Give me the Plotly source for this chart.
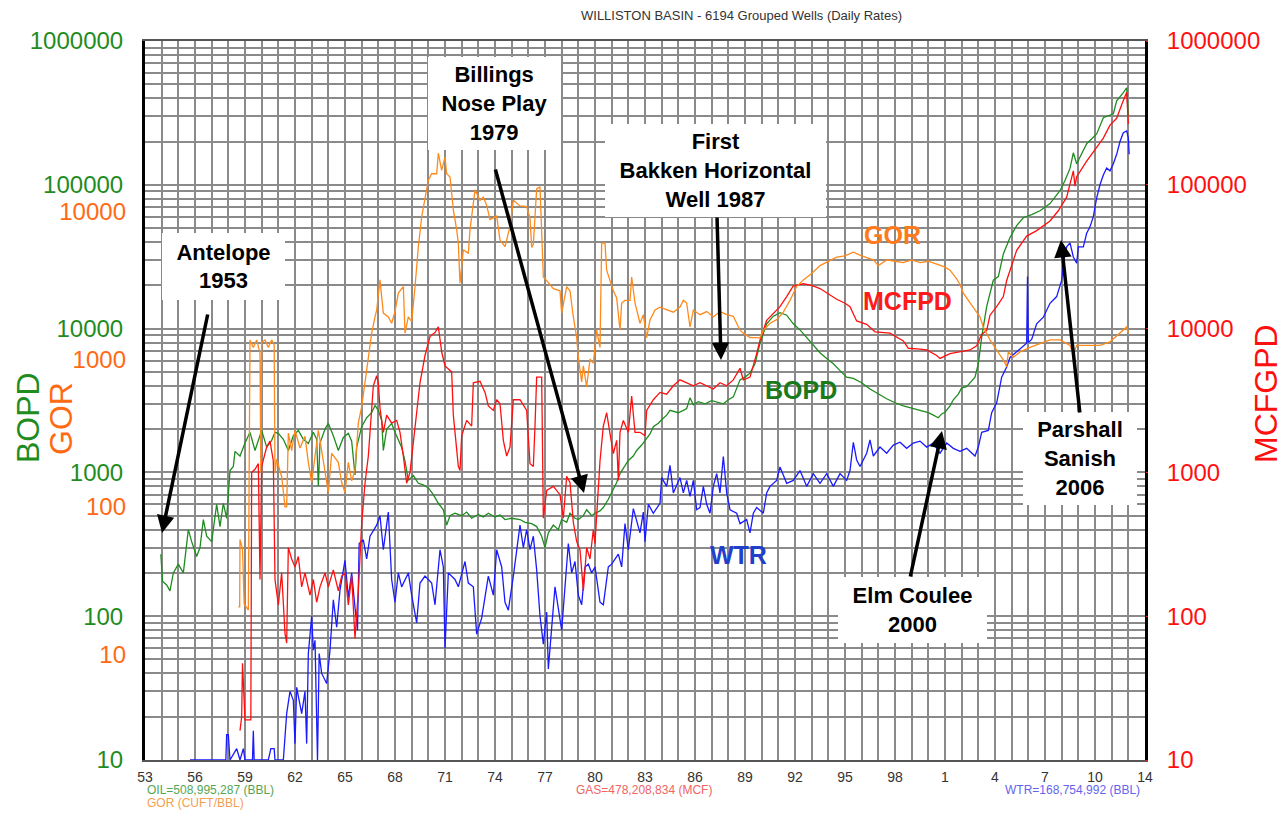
import plotly.graph_objects as go

# ---------------- data ----------------
oil_year = [1953.95,1954.05,1954.3,1954.5,1954.7,1955.0,1955.3,1955.6,1955.8,1956.1,1956.3,1956.5,1956.7,1957.0,1957.3,1957.5,1957.7,1957.9,
            1958.1,1958.3,1958.4,1958.7,1959.0,1959.3,1959.6,1959.8,1960.0,1960.3,1960.6,1960.8,1961.0,1961.3,1961.6,1961.9,1962.2,1962.5,
            1962.8,1963.1,1963.3,1963.4,1963.5,1963.8,1964.0,1964.3,1964.6,1964.9,1965.2,1965.4,1965.6,1965.7,1966.0,1966.3,1966.6,1966.8,
            1967.0,1967.2,1967.3,1967.5,1967.8,1968.0,1968.4,1968.6,1968.8,1969.1,1969.4,1969.7,1970.0,1970.3,1970.6,1970.9,1971.1,1971.3,
            1971.6,1972.0,1972.3,1972.6,1973.0,1973.3,1973.6,1974.0,1974.3,1974.6,1975.0,1975.5,1975.8,1976.2,1976.5,1976.8,1977.0,1977.2,
            1977.5,1977.8,1978.0,1978.3,1978.5,1978.8,1979.0,1979.3,1979.5,1979.8,1980.0,1980.3,1980.5,1980.8,1981.0,1981.3,1981.5,1981.8,
            1982.0,1982.3,1982.5,1982.8,1983.0,1983.3,1983.5,1983.8,1984.0,1984.3,1984.5,1984.8,1985.0,1985.3,1985.5,1985.7,1985.9,1986.2,
            1986.6,1987.0,1987.4,1987.7,1988.0,1988.3,1988.7,1989.0,1989.3,1989.6,1989.9,1990.3,1990.7,1991.1,1991.5,1991.9,1992.3,1992.7,
            1993.1,1993.5,1993.9,1994.3,1994.7,1995.1,1995.5,1996.0,1996.5,1997.0,1997.5,1998.0,1998.5,1999.0,1999.5,2000.0,2000.3,2000.6,
            2000.8,2001.0,2001.3,2001.5,2001.8,2002.0,2002.3,2002.6,2002.8,2003.0,2003.2,2003.5,2003.9,2004.2,2004.5,2004.9,2005.3,2005.7,
            2006.2,2006.7,2007.3,2007.9,2008.2,2008.5,2008.7,2008.9,2009.2,2009.5,2010.1,2010.5,2011.1,2011.3,2011.7,2011.9,2012.0]
oil_bopd = [270,175,165,150,200,230,200,400,330,260,300,470,360,330,600,420,610,480,
            1030,1100,1400,1300,1600,1900,1420,1700,1960,1500,1670,1900,1870,1700,1420,1800,1960,1700,
            1590,1900,1700,800,1600,2000,2190,1800,1420,1750,1870,1650,960,1500,2080,2400,2600,2920,
            2700,2300,1420,2000,2190,1900,1490,1200,880,950,840,820,780,700,610,550,430,500,
            520,500,530,480,510,490,520,490,505,470,480,470,450,440,420,360,300,380,
            430,400,470,450,520,480,470,500,550,500,520,540,570,650,720,850,980,1100,
            1210,1300,1420,1550,1670,1850,2080,2200,2320,2500,2700,2650,2600,2700,2780,3300,2950,3100,
            3000,3150,3050,3000,3200,3350,4400,4600,4900,5700,7900,10800,12200,12900,12400,10800,9800,8700,
            7700,6800,6200,5700,5100,4600,4500,4200,3800,3500,3250,3050,2900,2800,2700,2600,2500,2400,
            2550,2620,2900,3200,3500,3870,3950,4300,4600,5700,8700,14200,21700,23000,33000,43000,52000,59000,
            62000,66000,74000,91000,107000,130000,167000,140000,165000,193000,226000,293000,312000,384000,437000,473000,302000]

gas_year = [1958.7,1958.8,1958.85,1958.95,1959.0,1959.35,1959.4,1959.6,1959.8,1959.9,1960.0,1960.3,1960.5,1960.7,1960.8,1961.0,1961.2,
            1961.4,1961.5,1961.6,1961.8,1962.0,1962.2,1962.4,1962.6,1962.9,1963.1,1963.3,1963.5,1963.8,1964.0,1964.3,1964.6,1964.8,1965.0,
            1965.2,1965.4,1965.6,1965.8,1966.0,1966.2,1966.4,1966.5,1966.7,1966.9,1967.0,1967.1,1967.3,1967.5,1967.8,1968.1,1968.3,1968.5,
            1968.7,1968.9,1969.2,1969.5,1969.8,1970.1,1970.4,1970.6,1970.8,1971.0,1971.4,1971.5,1971.8,1971.9,1972.0,1972.3,1972.6,1972.7,
            1973.1,1973.4,1973.6,1973.9,1974.1,1974.3,1974.5,1974.7,1974.9,1975.1,1975.5,1975.9,1976.1,1976.3,1976.4,1976.5,1976.8,1976.9,
            1977.1,1977.5,1977.9,1978.1,1978.3,1978.5,1978.7,1978.9,1979.1,1979.3,1979.5,1979.7,1979.9,1980.0,1980.1,1980.3,1980.5,1980.7,
            1980.9,1981.1,1981.3,1981.4,1981.5,1981.7,1982.0,1982.2,1982.4,1982.7,1983.0,1983.1,1983.5,1983.9,1984.3,1984.7,1985.1,1985.5,
            1985.9,1986.3,1986.7,1987.1,1987.5,1987.9,1988.3,1988.7,1988.9,1989.3,1989.7,1989.9,1990.3,1990.7,1991.1,1991.5,1991.9,1992.5,
            1993.0,1993.5,1994.0,1994.5,1995.0,1995.3,1995.7,1996.3,1996.8,1997.7,1998.5,1998.8,1999.5,1999.9,2000.5,2000.7,2001.3,2001.9,
            2002.5,2002.9,2003.2,2003.5,2003.7,2004.1,2004.5,2004.7,2005.3,2005.9,2006.5,2007.3,2007.8,2008.3,2008.7,2008.8,2008.9,2009.5,
            2010.1,2010.5,2010.9,2011.3,2011.6,2011.9,2012.0]
gas_mcfpd = [16,20,47,29,19,19,1000,1050,1150,180,1100,1500,1650,1200,180,120,200,
             76,65,300,250,220,260,160,200,140,180,125,160,200,160,210,150,190,200,
             120,190,70,150,440,840,1300,1900,4000,4700,4200,2800,1900,2500,2200,2300,1900,1300,
             840,1000,2000,4200,6500,8800,9400,10300,6900,5500,5000,2500,1100,1030,1800,2300,2100,4200,
             4300,3600,2900,2700,3200,3000,1670,1300,1500,3200,3200,2700,1150,1100,2100,4600,4600,480,
             750,800,700,480,940,850,450,330,290,150,300,250,400,320,500,1200,2100,2600,
             1860,1350,1670,880,1900,2300,1900,3400,1900,1900,1800,2700,3200,3600,3500,4000,4400,4200,
             4000,4200,4000,3800,4200,4000,4400,5300,4400,4600,6700,8300,11400,12700,14200,16700,19800,20500,
             20000,19000,17500,16000,15000,14200,11300,10700,9500,9300,8200,7300,7200,7100,6500,6200,6700,6900,
             7100,7600,9100,9700,12400,14200,16700,21600,35000,44000,48000,56000,66000,82000,125000,98000,114000,146000,
             180000,211000,260000,290000,360000,440000,265000]

gor_year = [1958.6,1958.68,1958.7,1958.85,1958.95,1959.2,1959.3,1959.5,1959.7,1959.9,1959.95,1960.0,1960.2,1960.4,1960.6,1960.75,
            1960.8,1960.9,1961.2,1961.4,1961.5,1961.6,1961.8,1962.0,1962.3,1962.6,1962.8,1963.0,1963.2,1963.4,1963.6,1964.0,1964.2,
            1964.6,1964.8,1965.0,1965.2,1965.4,1965.6,1965.8,1966.0,1966.2,1966.4,1966.6,1966.8,1966.9,1967.1,1967.3,1967.6,1967.8,
            1968.0,1968.2,1968.5,1968.6,1968.8,1969.0,1969.2,1969.4,1969.6,1969.8,1970.0,1970.2,1970.5,1970.6,1970.8,1971.0,1971.1,
            1971.3,1971.5,1971.7,1971.8,1971.9,1972.1,1972.4,1972.5,1972.8,1973.1,1973.3,1973.5,1973.7,1974.1,1974.3,1974.6,1974.9,
            1975.1,1975.5,1975.9,1976.1,1976.2,1976.3,1976.5,1976.7,1976.8,1976.9,1977.1,1977.5,1977.9,1978.0,1978.3,1978.5,1978.7,
            1978.9,1979.0,1979.2,1979.3,1979.5,1979.7,1979.9,1980.1,1980.3,1980.4,1980.6,1980.7,1980.9,1981.1,1981.3,1981.5,1981.6,
            1981.8,1982.1,1982.2,1982.4,1982.7,1982.9,1983.1,1983.3,1983.6,1983.9,1984.3,1984.7,1985.1,1985.3,1985.5,1985.7,1985.9,
            1986.3,1986.7,1987.1,1987.5,1987.9,1988.3,1988.7,1988.9,1989.3,1989.7,1989.9,1990.1,1990.5,1990.9,1991.3,1991.7,1992.1,
            1992.5,1993.0,1993.5,1994.0,1994.5,1995.0,1995.5,1996.0,1996.7,1997.0,1997.5,1998.0,1998.5,1999.0,1999.5,2000.0,2000.5,
            2001.0,2001.3,2001.7,2001.9,2002.1,2002.4,2002.7,2003.1,2003.3,2003.7,2004.1,2004.5,2004.7,2004.8,2005.1,2005.5,2006.1,
            2006.7,2007.3,2007.9,2008.5,2008.7,2008.9,2009.7,2010.3,2010.9,2011.5,2011.9,2012.0]
gor_ratio = [21,21,60,52,22,20,1350,1200,1350,1100,170,1300,1350,1200,1350,1250,
             169,210,160,100,100,316,240,330,250,300,200,146,220,330,240,125,230,
             200,146,125,200,150,178,370,475,690,1030,1500,1930,2150,3440,2050,1930,1750,
             2100,2800,3100,1500,1930,1800,3080,5740,9200,12500,16300,18000,18000,24800,19000,23400,18000,
             17100,10300,7500,6100,3270,5500,5200,7500,14000,11900,12500,11000,8800,9300,6400,5770,7900,
             11900,10900,10800,9000,5700,6000,14200,14700,7300,3600,3400,3000,2900,2050,3100,2900,1930,
             1400,1030,700,900,650,1000,940,1570,1200,6100,6100,4000,3400,2900,2600,1570,2400,
             2500,2500,3600,2400,1750,2000,1400,1840,2150,2250,2150,2080,2250,2500,2400,1650,2150,
             2000,2100,1930,2100,2000,1950,1570,1500,1400,1400,1390,1570,1750,1850,2080,2500,3100,
             3440,3800,4300,4600,4900,5000,5300,5000,4700,4300,4700,4600,4500,4700,4500,4600,4400,
             4200,4000,3500,3200,2800,2500,2250,1930,1650,1350,1150,990,890,1120,1030,1120,1200,
             1280,1350,1350,1240,1070,1240,1240,1240,1310,1500,1650,1500]

wtr_year = [1955.7,1957.85,1957.9,1958.0,1958.1,1958.5,1958.7,1958.9,1959.0,1959.45,1959.5,1959.55,1960.4,1960.55,1960.75,1960.8,
            1961.3,1961.4,1961.5,1961.7,1961.9,1962.0,1962.1,1962.4,1962.6,1962.7,1962.8,1963.0,1963.1,1963.2,1963.35,1963.45,1963.6,
            1963.9,1964.1,1964.3,1964.5,1964.7,1965.0,1965.2,1965.4,1965.6,1965.75,1965.85,1966.1,1966.3,1966.5,1966.9,1967.1,1967.3,
            1967.6,1967.8,1968.0,1968.2,1968.4,1968.8,1969.0,1969.3,1969.5,1969.8,1970.2,1970.4,1970.7,1970.9,1971.0,1971.2,1971.6,
            1971.8,1972.2,1972.4,1972.7,1972.9,1973.2,1973.6,1973.9,1974.1,1974.4,1974.6,1974.8,1975.1,1975.5,1975.7,1975.9,1976.1,
            1976.3,1976.5,1976.7,1976.9,1977.1,1977.2,1977.4,1977.6,1978.0,1978.2,1978.4,1978.6,1978.8,1979.0,1979.2,1979.4,1979.6,
            1979.8,1980.0,1980.3,1980.5,1980.8,1981.0,1981.4,1981.6,1981.8,1982.0,1982.3,1982.5,1982.7,1982.9,1983.0,1983.2,1983.5,
            1983.9,1984.0,1984.3,1984.5,1984.7,1985.1,1985.3,1985.5,1985.7,1985.9,1986.1,1986.3,1986.5,1986.7,1986.9,1987.1,1987.3,
            1987.5,1987.7,1987.9,1988.1,1988.5,1988.7,1989.1,1989.3,1989.5,1989.7,1990.1,1990.3,1990.5,1990.9,1991.1,1991.5,1991.9,
            1992.3,1992.7,1993.1,1993.5,1993.9,1994.3,1994.7,1995.1,1995.3,1995.5,1995.7,1995.9,1996.3,1996.5,1996.7,1997.1,1997.5,
            1997.9,1998.3,1998.7,1999.1,1999.5,1999.9,2000.3,2000.7,2001.1,2001.5,2001.9,2002.3,2002.8,2003.0,2003.2,2003.6,2003.8,
            2004.1,2004.4,2004.7,2004.9,2005.3,2005.6,2005.9,2005.95,2006.0,2006.2,2006.5,2006.9,2007.3,2007.7,2008.0,2008.1,2008.3,
            2008.5,2008.7,2008.9,2009.0,2009.3,2009.5,2009.7,2009.9,2010.1,2010.3,2010.5,2010.7,2010.9,2011.1,2011.3,2011.5,2011.7,
            2011.9,2012.0,2012.05]
wtr_bpd = [10,10,15,15,10,12,10,12,10,10,16,10,10,12,12,10,
           10,15,21,30,26,13,32,21,30,13,55,100,58,68,10,55,40,
           34,58,130,84,152,245,135,200,115,80,320,340,250,360,430,500,290,
           530,180,125,200,160,200,140,90,170,190,170,120,290,220,60,200,180,
           160,240,170,160,75,97,190,140,290,220,125,110,190,430,300,400,290,
           360,210,100,64,107,43,85,160,80,160,320,200,240,140,120,220,230,
           200,220,125,120,220,230,270,220,440,290,560,470,380,530,330,600,520,
           610,920,800,1120,720,920,720,880,680,880,550,570,800,600,520,800,980,
           720,1290,720,550,520,440,470,380,520,570,520,720,800,880,1090,840,880,
           1030,800,980,840,980,800,980,880,1030,1620,1220,1100,1360,1680,1300,1500,1360,
           1550,1620,1470,1600,1650,1500,1600,1360,1600,1470,1400,1470,1300,1500,1900,1960,2600,
           3050,4600,5400,6300,6900,7400,7900,23000,8000,8400,10800,12000,15000,16700,21700,28500,37000,
           39500,31500,28500,37000,37000,46000,51000,60000,81000,100000,117000,131000,125000,140000,163000,200000,230000,
           237000,212000,163000]

year_ticks = list(range(1953, 2014))
year_labels = ['53', '56', '59', '62', '65', '68', '71', '74', '77', '80', '83', '86', '89',
               '92', '95', '98', '1', '4', '7', '10', '14']
left_decades = [10, 100, 1000, 10000, 100000, 1000000]
gor_decades = [10, 100, 1000, 10000]
right_decades = [10, 100, 1000, 10000, 100000, 1000000]

# ---------------- styling ----------------
FONT = "Liberation Sans, Arial, sans-serif"
GREEN, RED, ORANGE, BLUE = "#1f8c1f", "#ff1010", "#ff8a1c", "#1a1aff"
GRID = "#8a8a8a"
# the page body adds an 8px offset; the figure is sized so the plot lands where the reference has it
OFF = 8
FIG_W, FIG_H = 1288 - OFF, 815 - OFF
PL, PT, PW, PH = 145, 41, 1000, 719   # plot area in page pixels

log_grid = [m * d for d in left_decades[:-1] for m in range(1, 10)] + [left_decades[-1]]
log_text = [str(v) if v in left_decades else "" for v in log_grid]
x_text = []
lab_i = 0
for i, yr in enumerate(year_ticks):
    if i % 3 == 0:
        x_text.append(year_labels[lab_i]); lab_i += 1
    else:
        x_text.append("")

fig = go.Figure()
fig.add_trace(go.Scatter(x=wtr_year, y=wtr_bpd, mode="lines", line=dict(color=BLUE, width=1.3), yaxis="y"))
fig.add_trace(go.Scatter(x=oil_year, y=oil_bopd, mode="lines", line=dict(color=GREEN, width=1.3), yaxis="y"))
fig.add_trace(go.Scatter(x=gor_year, y=gor_ratio, mode="lines", line=dict(color=ORANGE, width=1.3), yaxis="y3"))
fig.add_trace(go.Scatter(x=gas_year, y=gas_mcfpd, mode="lines", line=dict(color=RED, width=1.3), yaxis="y2"))

fig.update_layout(
    width=FIG_W, height=FIG_H, showlegend=False,
    margin=dict(l=PL - OFF, r=FIG_W - (PL - OFF) - PW, t=PT - OFF, b=FIG_H - (PT - OFF) - PH, autoexpand=False),
    paper_bgcolor="white", plot_bgcolor="white",
    font=dict(family=FONT),
    xaxis=dict(range=[1953, 2013], tickvals=year_ticks, ticktext=x_text, showgrid=True,
               gridcolor=GRID, gridwidth=2, ticks="", tickfont=dict(size=14, color="#333"),
               showline=True, linecolor="#555", linewidth=1.5, mirror=True, zeroline=False,
               ticklabelstandoff=3, automargin=False),
    yaxis=dict(type="log", range=[1, 6], tickvals=log_grid, ticktext=log_text, showgrid=True,
               gridcolor=GRID, gridwidth=2, ticks="", tickfont=dict(size=24, color=GREEN),
               showline=True, linecolor="black", linewidth=3, mirror=True, ticklabelstandoff=14,
               automargin=False),
    yaxis2=dict(type="log", range=[1, 6], overlaying="y", side="right", tickvals=right_decades,
                ticktext=[str(v) for v in right_decades], showgrid=False, ticks="outside", ticklen=2,
                tickcolor=RED, tickfont=dict(size=24, color=RED), ticklabelstandoff=14, showline=False,
                automargin=False),
    yaxis3=dict(type="log", range=[0.286, 5.154], overlaying="y", side="left", anchor="x",
                tickvals=gor_decades, ticktext=[str(v) for v in gor_decades], showgrid=False, ticks="",
                tickfont=dict(size=24, color="#ff6a13"), ticklabelstandoff=18, showline=False,
                automargin=False),
)

def px(xp):
    return (xp - PL) / float(PW)

def py(yp):
    return (PT + PH - yp) / float(PH)

def label(text, x, y, size, color, xanchor="center", angle=0):
    return dict(text=text, x=px(x), y=py(y), xref="paper", yref="paper", showarrow=False,
                xanchor=xanchor, yanchor="middle", textangle=angle, font=dict(size=size, color=color))

ann = []
ann.append(label("WILLISTON BASIN - 6194 Grouped Wells (Daily Rates)", 741, 15, 13, "#333"))
ann.append(label("OIL=508,995,287 (BBL)", 145, 790, 12, "#55a555", xanchor="left"))
ann.append(label("GOR (CUFT/BBL)", 145, 803, 12, "#f5a050", xanchor="left"))
ann.append(label("GAS=478,208,834 (MCF)", 644, 790, 12, "#f06464"))
ann.append(label("WTR=168,754,992 (BBL)", 1142, 790, 12, "#6464f0", xanchor="right"))
ann.append(label("BOPD", 28, 418, 32, GREEN, angle=-90))
ann.append(label("GOR", 61, 419, 32, "#ff6a13", angle=-90))
ann.append(label("MCFGPD", 1266, 394, 32, RED, angle=-90))
for t, cx, cy, col in [("GOR", 892, 235, "#ff7a1c"), ("MCFPD", 907, 301, "#ff1a1a"),
                       ("BOPD", 801, 390, "#1a7a1a"), ("WTR", 738, 555, "#2040cc")]:
    ann.append(label("<b>%s</b>" % t, cx, cy, 25, col))
for t, cx, cy, w, h in [("Antelope<br>1953", 223.5, 266.5, 123, 67),
                        ("Billings<br>Nose Play<br>1979", 494.5, 103.5, 133, 93),
                        ("First<br>Bakken Horizontal<br>Well 1987", 715.5, 170.5, 221, 93),
                        ("Elm Coulee<br>2000", 912, 610, 149, 66),
                        ("Parshall<br>Sanish<br>2006", 1080, 458.5, 114, 93)]:
    d = label("<b>%s</b>" % t, cx, cy, 22, "black")
    d.update(width=w, height=h, bgcolor="white", borderpad=0, borderwidth=0)
    ann.append(d)
for tipx, tipy, tailx, taily in [(162, 533, 208, 313), (584, 493, 495, 168), (721, 360, 717, 216),
                                 (942, 431, 910, 578), (1061, 240, 1080, 414)]:
    ann.append(dict(text="", x=px(tipx), y=py(tipy), xref="paper", yref="paper", showarrow=True,
                    ax=tailx - tipx, ay=taily - tipy, arrowcolor="black", arrowwidth=3.5,
                    arrowhead=2, arrowsize=1, standoff=0))
fig.update_layout(annotations=ann)

fig.write_html("out.html")
